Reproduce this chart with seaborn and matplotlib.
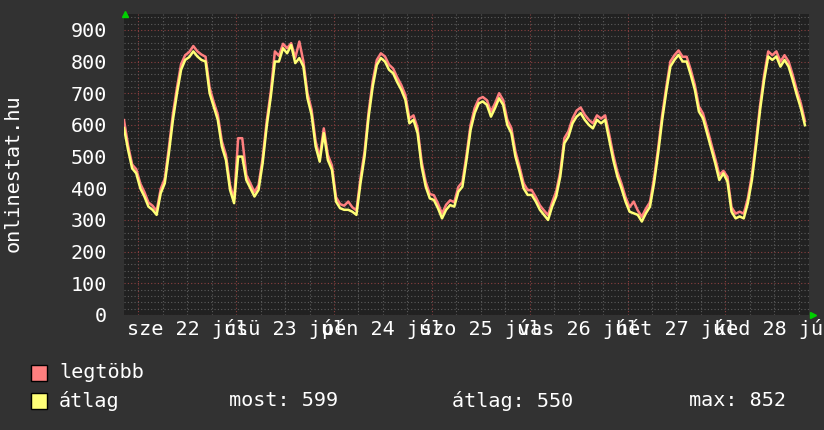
import pandas as pd
import matplotlib.pyplot as plt
import seaborn as sns
from matplotlib.ticker import FixedLocator, MultipleLocator
from matplotlib.patches import Rectangle

# --- Data (hourly samples, hours relative to 22 Jul 00:00) ---
start_hour = -3.5
avg_users = [
    590, 521, 463, 447, 400, 374, 342, 332, 316, 384, 416, 510, 616, 700, 774, 805,
    814, 832, 816, 805, 800, 700, 658, 616, 532, 489, 395, 353, 500, 500, 426, 400,
    374, 395, 479, 595, 689, 800, 800, 842, 826, 852, 795, 811, 784, 684, 632, 532,
    484, 574, 489, 458, 358, 337, 332, 332, 326, 316, 416, 500, 626, 721, 789, 811,
    800, 774, 763, 735, 711, 679, 605, 616, 574, 468, 405, 368, 363, 337, 305, 332,
    347, 342, 389, 405, 489, 584, 637, 668, 674, 663, 626, 653, 684, 663, 600, 574,
    500, 453, 400, 379, 379, 358, 332, 316, 300, 342, 374, 437, 542, 563, 605, 626,
    637, 616, 600, 589, 616, 605, 616, 553, 489, 437, 400, 358, 326, 321, 316, 295,
    321, 342, 416, 510, 616, 705, 784, 805, 821, 800, 800, 758, 711, 642, 621, 574,
    526, 479, 426, 447, 421, 326, 305, 311, 305, 353, 426, 532, 647, 742, 816, 805,
    816, 784, 805, 784, 742, 695, 653, 599,
]
max_users = [
    615, 535, 475, 460, 415, 388, 355, 345, 328, 398, 430, 528, 635, 718, 792, 820,
    830, 849, 832, 822, 815, 718, 672, 632, 548, 505, 410, 365, 558, 558, 442, 415,
    388, 410, 495, 612, 705, 832, 818, 856, 842, 858, 812, 863, 800, 700, 648, 548,
    498, 589, 505, 472, 372, 350, 345, 358, 340, 330, 432, 516, 642, 738, 805, 826,
    816, 790, 778, 750, 726, 695, 620, 630, 590, 484, 420, 382, 378, 352, 320, 348,
    362, 356, 404, 420, 505, 600, 653, 682, 688, 678, 642, 668, 700, 678, 616, 590,
    516, 468, 416, 394, 394, 372, 346, 330, 315, 356, 390, 452, 558, 580, 620, 645,
    655, 632, 616, 605, 630, 620, 630, 570, 505, 452, 415, 372, 340, 358, 330, 310,
    336, 356, 432, 526, 632, 720, 800, 820, 835, 815, 815, 774, 726, 658, 636, 590,
    542, 494, 442, 455, 436, 340, 320, 326, 320, 368, 442, 548, 662, 758, 832, 820,
    832, 800, 820, 800, 758, 710, 668, 612,
]
day_labels = ["sze 22 júl", "csü 23 júl", "pén 24 júl", "szo 25 júl",
              "vas 26 júl", "hét 27 júl", "ked 28 júl"]
series_names = ["legtöbb", "átlag"]
stats = ["most: 599", "átlag: 550", "max: 852"]

hours = [start_hour + i for i in range(len(avg_users))]
df = pd.concat([
    pd.DataFrame({"hour": hours, "users": max_users, "series": series_names[0]}),
    pd.DataFrame({"hour": hours, "users": avg_users, "series": series_names[1]}),
])

BG = "#323232"
CANVAS = "#212121"
colors = {series_names[0]: "#ff7f7f", series_names[1]: "#ffff77"}

plt.rcParams["font.family"] = ["DejaVu Sans Mono"]

fig = plt.figure(figsize=(8.24, 4.30), dpi=100, facecolor=BG)
ax = fig.add_axes([124 / 824, 115 / 430, 685 / 824, 301 / 430])
ax.set_facecolor(CANVAS)

sns.lineplot(data=df, x="hour", y="users", hue="series", palette=colors,
             hue_order=series_names, linewidth=1.8, legend=False, ax=ax,
             zorder=3)

ax.set_xlim(-3.5, 164.5)
ax.set_ylim(0, 950)

# grid: minor gray, major red
ax.yaxis.set_major_locator(MultipleLocator(100))
ax.yaxis.set_minor_locator(MultipleLocator(20))
ax.xaxis.set_major_locator(FixedLocator([24 * d for d in range(7)]))
minor_x = [h for h in range(6, 165, 6) if h % 24 != 0]
ax.xaxis.set_minor_locator(FixedLocator(minor_x))
ax.set_xticklabels([""] * 7)
ax.set_xticklabels([day_labels[(h - 12) // 24] if h % 24 == 12 else "" for h in minor_x],
                   minor=True)
ax.grid(which="minor", color="#5c5c5c", linestyle=(0, (1, 2)), linewidth=0.8)
ax.grid(which="major", color="#8a4040", linestyle=(0, (1, 2)), linewidth=0.8)
ax.set_axisbelow(True)

ax.tick_params(which="both", length=0, colors="white", labelsize=14.5)
ax.tick_params(axis="y", pad=12)
ax.tick_params(axis="x", which="minor", pad=3)
for s in ax.spines.values():
    s.set_visible(False)

ax.set_xlabel("")
ax.set_ylabel("onlinestat.hu", color="white", fontsize=14.5)
ax.yaxis.set_label_coords(-0.148, 0.47)

# green axis arrows
ax.plot([0.002], [1.0], marker="^", color="#00d000", markersize=5,
        transform=ax.transAxes, clip_on=False)
ax.plot([1.006], [0.0], marker=">", color="#00d000", markersize=5,
        transform=ax.transAxes, clip_on=False)

# legend
W, H = 824, 430
for row, name in enumerate(series_names):
    y_top = 365 + row * 28
    fig.patches.append(Rectangle((31 / W, 1 - (y_top + 16) / H), 16 / W, 16 / H,
                                 transform=fig.transFigure, facecolor=colors[name],
                                 edgecolor="black", linewidth=1))
    fig.text(59 / W, 1 - (y_top + 8) / H, name, color="white", fontsize=14.5,
             va="center")
for xpos, txt in zip([229, 452, 689], stats):
    fig.text(xpos / W, 1 - 401 / H, txt, color="white", fontsize=14.5, va="center")

plt.savefig("out.png", dpi=100, facecolor=BG)
plt.close()
